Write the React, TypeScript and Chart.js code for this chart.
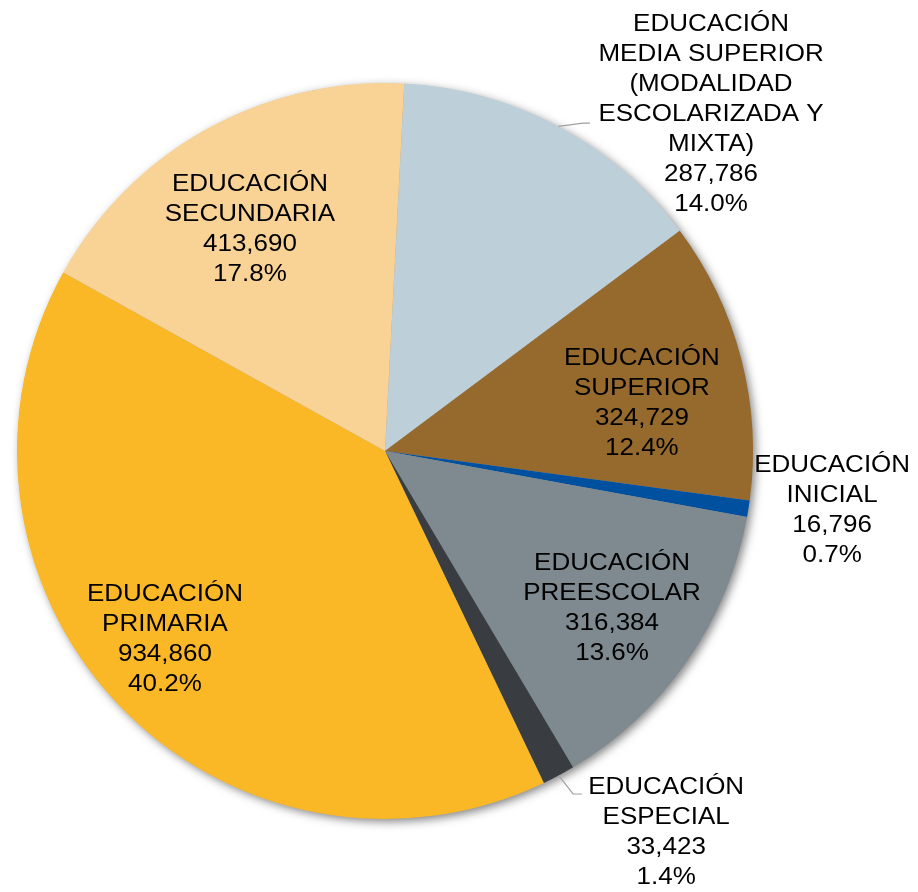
import React, { useEffect, useRef } from "react";
import { Chart, registerables } from "chart.js";

Chart.register(...registerables);

// Categories (each entry split into its displayed lines)
const categories: string[][] = [
  ["EDUCACIÓN", "MEDIA SUPERIOR", "(MODALIDAD", "ESCOLARIZADA Y", "MIXTA)"],
  ["EDUCACIÓN", "SUPERIOR"],
  ["EDUCACIÓN", "INICIAL"],
  ["EDUCACIÓN", "PREESCOLAR"],
  ["EDUCACIÓN", "ESPECIAL"],
  ["EDUCACIÓN", "PRIMARIA"],
  ["EDUCACIÓN", "SECUNDARIA"],
];

// Slice sizes (as drawn in the picture)
const sliceValues: number[] = [324729, 287786, 16796, 316384, 33423, 934860, 413690];

// Counts as printed on the labels
const labelCounts: number[] = [287786, 324729, 16796, 316384, 33423, 934860, 413690];

const sliceColors: string[] = [
  "#BDD0D9",
  "#966A2D",
  "#0050A0",
  "#7E8990",
  "#393D41",
  "#FBB826",
  "#F9D396",
];

// Label anchor offsets, in units of the pie radius, relative to the pie centre
const labelOffsets: [number, number][] = [
  [0.886, -0.914],
  [0.698, -0.13],
  [1.215, 0.163],
  [0.617, 0.429],
  [0.764, 1.038],
  [-0.598, 0.514],
  [-0.367, -0.601],
];

// Leader lines: [elbow, end] in radius units relative to centre (null = none)
const leaders: ([number, number][] | null)[] = [
  [[0.538, -0.891], [0.557, -0.891]],
  null,
  null,
  null,
  [[0.511, 0.932], [0.535, 0.932]],
  null,
  null,
];

const LINE_H = 30;
const FONT = '23px "Liberation Sans", Arial, sans-serif';
const X_STRETCH = 1.13;

const shadowPlugin = {
  id: "pieShadow",
  beforeDatasetsDraw(chart: any) {
    const arc = chart.getDatasetMeta(0).data[0];
    if (!arc) return;
    const { x, y, outerRadius } = arc.getProps(["x", "y", "outerRadius"], true);
    const ctx = chart.ctx as CanvasRenderingContext2D;
    ctx.save();
    ctx.shadowColor = "rgba(0,0,0,0.5)";
    ctx.shadowBlur = 10;
    ctx.shadowOffsetX = 3;
    ctx.shadowOffsetY = 3;
    ctx.beginPath();
    ctx.arc(x, y, outerRadius - 0.5, 0, Math.PI * 2);
    ctx.fillStyle = "#999";
    ctx.fill();
    ctx.restore();
  },
};

const labelPlugin = {
  id: "pieLabels",
  afterDatasetsDraw(chart: any) {
    const meta = chart.getDatasetMeta(0);
    const ctx = chart.ctx as CanvasRenderingContext2D;
    const total = sliceValues.reduce((a, b) => a + b, 0);
    meta.data.forEach((arc: any, i: number) => {
      const { x, y, outerRadius, startAngle, endAngle } = arc.getProps(
        ["x", "y", "outerRadius", "startAngle", "endAngle"],
        true
      );
      const R = outerRadius;
      const ld = leaders[i];
      if (ld) {
        const mid = (startAngle + endAngle) / 2;
        ctx.save();
        ctx.strokeStyle = "#A0A0A0";
        ctx.lineWidth = 1.2;
        ctx.beginPath();
        ctx.moveTo(x + R * Math.cos(mid), y + R * Math.sin(mid));
        ld.forEach(([fx, fy]) => ctx.lineTo(x + fx * R, y + fy * R));
        ctx.stroke();
        ctx.restore();
      }
      const pct = ((sliceValues[i] / total) * 100).toFixed(1) + "%";
      const lines = [...categories[i], labelCounts[i].toLocaleString("en-US"), pct];
      const ax = x + labelOffsets[i][0] * R;
      const ay = y + labelOffsets[i][1] * R;
      const y0 = ay - ((lines.length - 1) * LINE_H) / 2;
      ctx.save();
      ctx.font = FONT;
      ctx.fillStyle = "#000";
      ctx.textAlign = "center";
      ctx.textBaseline = "middle";
      lines.forEach((t, k) => {
        ctx.save();
        ctx.translate(ax, y0 + k * LINE_H);
        ctx.scale(X_STRETCH, 1);
        ctx.fillText(t, 0, 0);
        ctx.restore();
      });
      ctx.restore();
    });
  },
};

export default function App() {
  const ref = useRef<HTMLCanvasElement | null>(null);
  useEffect(() => {
    if (!ref.current) return;
    const chart = new Chart(ref.current, {
      type: "pie",
      data: {
        labels: categories.map((c) => c.join(" ")),
        datasets: [
          {
            data: sliceValues,
            backgroundColor: sliceColors,
            borderWidth: 0,
            hoverOffset: 0,
            offset: 0,
          } as any,
        ],
      },
      options: {
        responsive: false,
        animation: false,
        devicePixelRatio: 1,
        rotation: 3,
        layout: { padding: { left: 17, right: 165, top: 83, bottom: 73 } },
        plugins: {
          legend: { display: false },
          tooltip: { enabled: false },
        },
        events: [],
      } as any,
      plugins: [shadowPlugin, labelPlugin],
    });
    return () => chart.destroy();
  }, []);
  return (
    <div style={{ position: "absolute", left: 0, top: 0, width: 918, height: 892, background: "#fff" }}>
      <canvas ref={ref} width={918} height={892} style={{ width: 918, height: 892 }} />
    </div>
  );
}
